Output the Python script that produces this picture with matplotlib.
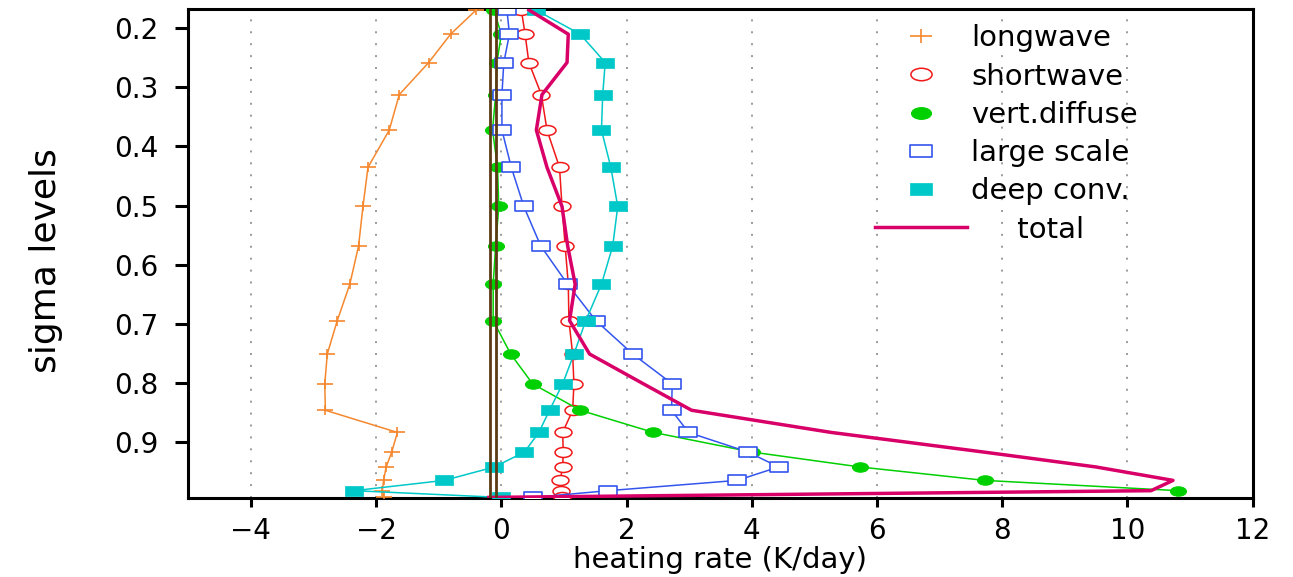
import numpy as np
import matplotlib
matplotlib.use("Agg")
import matplotlib.pyplot as plt
from matplotlib.path import Path
from matplotlib.lines import Line2D

# ---------------- data ----------------
sigma = [0.169, 0.2101, 0.258, 0.3123, 0.3723, 0.4353, 0.5015, 0.5682, 0.633,
         0.6944, 0.751, 0.8014, 0.8461, 0.8836, 0.9167, 0.942, 0.9647, 0.9821, 0.9935]

longwave = [-0.40, -0.81, -1.16, -1.63, -1.79, -2.13, -2.21, -2.28, -2.42, -2.62,
            -2.78, -2.82, -2.81, -1.66, -1.75, -1.84, -1.88, -1.90, -1.87]
shortwave = [0.32, 0.38, 0.44, 0.64, 0.73, 0.93, 0.97, 1.02, 1.07, 1.08,
             1.14, 1.16, 1.14, 0.98, 0.99, 0.98, 0.94, 0.95, 0.97]
vert_diffuse = [-0.12, 0.00, -0.07, -0.09, -0.14, -0.06, -0.04, -0.09, -0.13, -0.13,
                0.15, 0.50, 1.26, 2.43, 4.00, 5.73, 7.72, 10.81, np.nan]
large_scale = [0.09, 0.13, 0.04, 0.01, 0.01, 0.16, 0.36, 0.63, 1.06, 1.51,
               2.10, 2.73, 2.72, 2.99, 3.94, 4.43, 3.77, 1.71, 0.50]
deep_conv = [0.55, 1.26, 1.66, 1.62, 1.60, 1.75, 1.86, 1.78, 1.60, 1.35,
             1.16, 0.98, 0.77, 0.60, 0.37, -0.11, -0.91, -2.35, -0.01]
total = [0.44, 1.07, 1.05, 0.65, 0.56, 0.73, 0.97, 1.06, 1.18, 1.09,
         1.41, 2.27, 3.04, 5.27, 7.70, 9.50, 10.73, 10.38, -0.20]

zero_lines = [-0.18, -0.08]

labels = ["longwave", "shortwave", "vert.diffuse", "large scale", "deep conv.", "total"]
xticks = [-4, -2, 0, 2, 4, 6, 8, 10, 12]
yticks = [0.2, 0.3, 0.4, 0.5, 0.6, 0.7, 0.8, 0.9]
xgrid = [-4, -2, 0, 2, 4, 6, 8, 10]

# ---------------- markers ----------------
circ = Path.unit_circle()
ellipse = Path(circ.vertices * np.array([1.7, 1.0]), circ.codes)
rect = Path([(-1.8, -1), (1.8, -1), (1.8, 1), (-1.8, 1), (-1.8, -1)],
            [Path.MOVETO, Path.LINETO, Path.LINETO, Path.LINETO, Path.CLOSEPOLY])
plus = Path([(-1.6, 0), (1.6, 0), (0, -1), (0, 1)],
            [Path.MOVETO, Path.LINETO, Path.MOVETO, Path.LINETO])

c_orange = "#f5882e"
c_red = "#f01818"
c_green = "#00d000"
c_blue = "#3355ee"
c_cyan = "#00c8c8"
c_mag = "#d80068"
c_brown = "#5c3a14"

plt.rcParams['font.family'] = ['DejaVu Sans']

fig = plt.figure(figsize=(12.93, 5.77), dpi=100)
ax = fig.add_axes([188.3 / 1293, 1 - 498.3 / 577, (1252.5 - 188.3) / 1293, (498.3 - 9.3) / 577])

lw = 1.1
ax.plot(longwave, sigma, color=c_orange, lw=lw, marker=plus, ms=12.2,
        mew=1.2, mfc='none', mec=c_orange, label=labels[0], zorder=3)
ax.plot(shortwave, sigma, color=c_red, lw=lw, marker=ellipse, ms=12.2,
        mew=1.1, mfc='white', mec=c_red, label=labels[1], zorder=4)
ax.plot(vert_diffuse, sigma, color=c_green, lw=lw, marker=ellipse, ms=11.5,
        mew=0.8, mfc=c_green, mec=c_green, label=labels[2], zorder=5)
ax.plot(large_scale, sigma, color=c_blue, lw=lw, marker=rect, ms=13,
        mew=1.2, mfc='white', mec=c_blue, label=labels[3], zorder=6)
ax.plot(deep_conv, sigma, color=c_cyan, lw=lw, marker=rect, ms=12.5,
        mew=0.5, mfc=c_cyan, mec=c_cyan, label=labels[4], zorder=7)
ax.plot(total, sigma, color=c_mag, lw=2.5, label=labels[5], zorder=8)

for xz in zero_lines:
    ax.axvline(xz, color=c_brown, lw=2.0, zorder=9)

for xg in xgrid:
    ax.axvline(xg, color="#808080", lw=1.1, ls=(0, (1.3, 6.5)), zorder=1)

ax.set_xlim(-5, 12)
ax.set_ylim(0.995, 0.168)
ax.set_xticks(xticks)
ax.set_yticks(yticks)
ax.set_xticklabels([str(t) if t >= 0 else "\u2212" + str(-t) for t in xticks])
ax.set_yticklabels(["%.1f" % t for t in yticks])
ax.tick_params(axis='x', direction='out', length=6.5, width=2.2, pad=7, labelsize=20)
ax.tick_params(axis='y', direction='out', length=9.4, width=2.2, pad=12, labelsize=20)
for sp in ax.spines.values():
    sp.set_linewidth(2.2)
    sp.set_color('black')

ax.set_xlabel("heating rate (K/day)", fontsize=21, labelpad=0.5)
fig.text(46 / 1293, 1 - 261 / 577, "sigma levels", rotation=90, ha='center', va='center',
         fontsize=26, family=['Liberation Sans Narrow', 'DejaVu Sans'])

# legend
lh = [Line2D([], [], ls='none', marker=plus, ms=12.2, mew=1.2, mfc='none', mec=c_orange),
      Line2D([], [], ls='none', marker=ellipse, ms=12.2, mew=1.1, mfc='white', mec=c_red),
      Line2D([], [], ls='none', marker=ellipse, ms=11.5, mew=0.8, mfc=c_green, mec=c_green),
      Line2D([], [], ls='none', marker=rect, ms=13, mew=1.2, mfc='white', mec=c_blue),
      Line2D([], [], ls='none', marker=rect, ms=12.5, mew=0.5, mfc=c_cyan, mec=c_cyan),
      Line2D([], [], color=c_mag, lw=2.5)]
ll = labels[:5] + ["     " + labels[5]]
leg = ax.legend(lh, ll, loc='upper left', bbox_to_anchor=(0.645, 0.969), frameon=False,
                fontsize=21, handlelength=3.15, handletextpad=0.15, labelspacing=0.35,
                borderpad=0, borderaxespad=0, markerscale=1.25)

fig.savefig("out.png", dpi=100)
